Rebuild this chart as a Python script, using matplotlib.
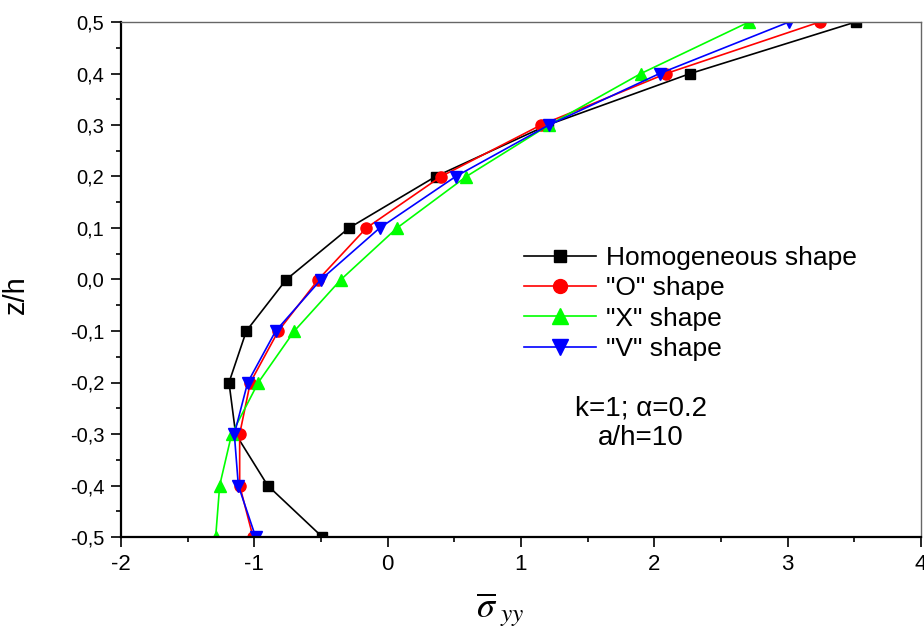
import matplotlib
matplotlib.use("Agg")
import matplotlib.pyplot as plt
from matplotlib.ticker import MultipleLocator, FuncFormatter

plt.rcParams['font.family'] = ['Liberation Sans', 'DejaVu Sans']
plt.rcParams['axes.unicode_minus'] = False
plt.rcParams['mathtext.fontset'] = 'stix'

z = [-0.5, -0.4, -0.3, -0.2, -0.1, 0.0, 0.1, 0.2, 0.3, 0.4, 0.5]
homog = [-0.49, -0.90, -1.14, -1.19, -1.06, -0.76, -0.29, 0.36, 1.20, 2.27, 3.51]
o_shape = [-1.01, -1.11, -1.11, -1.03, -0.82, -0.52, -0.16, 0.40, 1.15, 2.09, 3.24]
x_shape = [-1.29, -1.26, -1.17, -0.97, -0.70, -0.35, 0.07, 0.59, 1.21, 1.90, 2.71]
v_shape = [-0.99, -1.12, -1.15, -1.05, -0.84, -0.50, -0.06, 0.51, 1.21, 2.04, 3.01]

labels = ['Homogeneous shape', '"O" shape', '"X" shape', '"V" shape']

fig = plt.figure(figsize=(9.24, 6.32), dpi=100)
ax = fig.add_axes([121/924, 1-537/632, 800/924, 515/632])

ax.plot(homog, z, color='black', lw=1.2, marker='s', ms=7, label=labels[0])
ax.plot(o_shape, z, color='#ff0000', lw=1.2, marker='o', ms=8, label=labels[1])
ax.plot(x_shape, z, color='#00ff00', lw=1.2, marker='^', ms=9, label=labels[2])
ax.plot(v_shape, z, color='#0000ff', lw=1.2, marker='v', ms=9, label=labels[3])

ax.set_xlim(-2, 4)
ax.set_ylim(-0.5, 0.5)
ax.xaxis.set_major_locator(MultipleLocator(1))
ax.xaxis.set_minor_locator(MultipleLocator(0.5))
ax.yaxis.set_major_locator(MultipleLocator(0.1))
ax.yaxis.set_minor_locator(MultipleLocator(0.05))
ax.yaxis.set_major_formatter(FuncFormatter(lambda v, p: f"{v:.1f}".replace('.', ',').replace('-0,0', '0,0')))
ax.xaxis.set_major_formatter(FuncFormatter(lambda v, p: f"{v:.0f}"))

ax.tick_params(axis='both', which='major', direction='out', length=7, width=1.2)
ax.tick_params(axis='both', which='minor', direction='out', length=3.6, width=1.2)
ax.tick_params(axis='x', labelsize=16, pad=5)
ax.tick_params(axis='y', labelsize=14.5, pad=5)

for s in ['left', 'bottom']:
    ax.spines[s].set_linewidth(1.6)
    ax.spines[s].set_color('black')
for s in ['top', 'right']:
    ax.spines[s].set_linewidth(1.0)
    ax.spines[s].set_color('#666666')

ax.set_ylabel('z/h', fontsize=21)
ax.yaxis.set_label_coords(-0.114, 0.47)
ax.set_xlabel(r'$\overline{\sigma}_{\ yy}$', fontsize=26)
ax.xaxis.set_label_coords(0.474, -0.104)

leg = ax.legend(loc='upper left', bbox_to_anchor=(0.49, 0.585), frameon=False,
                fontsize=19, handlelength=2.76, handletextpad=0.38,
                labelspacing=0.235, markerscale=1.25, borderaxespad=0)

ax.text(0.65, 0.221, 'k=1; \u03b1=0.2\na/h=10', transform=ax.transAxes,
        ha='center', va='center', fontsize=20, linespacing=1.2)

fig.savefig('out.png', dpi=100)
